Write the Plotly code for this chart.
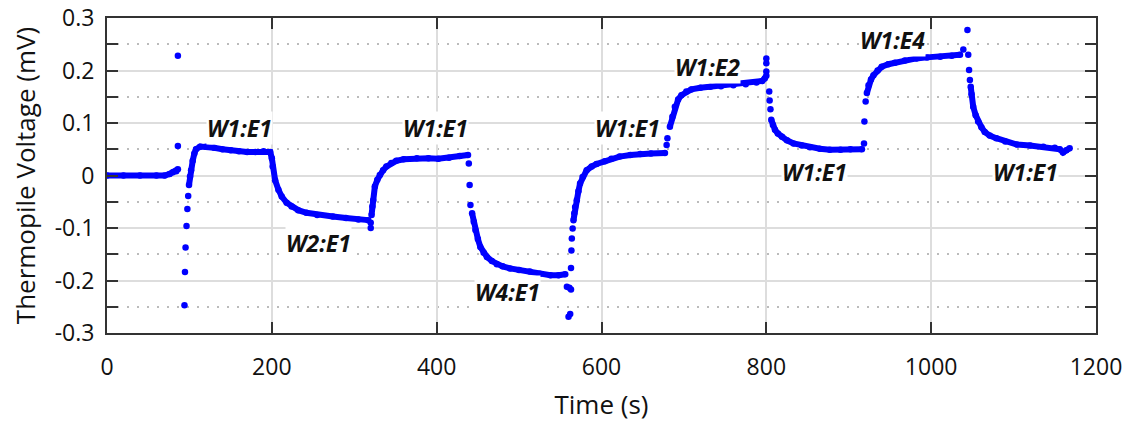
import plotly.graph_objects as go

# Continuous sweeps (None separates the segments)
curve_t = [0, 20, 40, 60, 70, 76, 80, 84, 86, None,
           99.5, 100.7, 102, 104, 106, 108, 113, 120, 130, 140, 150, 160, 170, 180, 190, 198, 200, 201,
           204, 208, 212, 218, 224, 232, 242, 255, 274, 290, 305, 317, None,
           321, 322, 323, 325, 328, 331, 335, 339, 345, 351, 360, 376, 390, 402, 415, 428, 438, None,
           443, 445, 447, 450, 453, 457, 461, 467, 473, 480, 489, 500, 513, 525, 538, 548, 556, None,
           566, 567, 568, 570, 572, 574, 577, 582, 588, 594, 604, 612, 622, 635, 647, 660, 677, None,
           683, 686, 689, 693, 697, 703, 709, 720, 732, 745, 760, 775, 788, 795, 798, 800, None,
           806, 808, 810.5, 814, 819, 825, 833, 843, 853, 865, 877, 890, 902, 916, None,
           922, 924, 927, 930, 935, 940, 948, 956, 968, 982, 995, 1011, 1025, 1035, None,
           1048, 1049, 1051, 1054, 1057, 1061, 1065, 1071, 1079, 1090, 1104, 1120, 1136, 1150, 1156, 1160, 1164, 1168]
curve_v = [0.0, 0.0, 0.0, 0.0, 0.0, 0.003, 0.006, 0.008, 0.012, None,
           -0.018, -0.002, 0.010, 0.028, 0.042, 0.050, 0.055, 0.055, 0.053, 0.050, 0.048, 0.046, 0.045, 0.045, 0.046, 0.045, 0.033, 0.017,
           -0.009, -0.027, -0.040, -0.052, -0.059, -0.066, -0.071, -0.075, -0.078, -0.081, -0.084, -0.085, None,
           -0.075, -0.059, -0.047, -0.021, -0.008, 0.001, 0.010, 0.017, 0.024, 0.028, 0.031, 0.033, 0.033, 0.032, 0.034, 0.037, 0.039, None,
           -0.072, -0.088, -0.104, -0.121, -0.136, -0.147, -0.155, -0.163, -0.169, -0.173, -0.177, -0.180, -0.183, -0.187, -0.190, -0.190, -0.188, None,
           -0.085, -0.072, -0.060, -0.047, -0.030, -0.015, -0.003, 0.010, 0.017, 0.022, 0.027, 0.032, 0.036, 0.039, 0.041, 0.042, 0.043, None,
           0.093, 0.112, 0.131, 0.145, 0.153, 0.160, 0.164, 0.167, 0.169, 0.170, 0.172, 0.174, 0.177, 0.180, 0.185, 0.190, None,
           0.106, 0.096, 0.087, 0.080, 0.074, 0.067, 0.061, 0.057, 0.054, 0.051, 0.049, 0.049, 0.050, 0.050, None,
           0.157, 0.172, 0.183, 0.191, 0.200, 0.207, 0.212, 0.215, 0.219, 0.223, 0.225, 0.226, 0.228, 0.230, None,
           0.169, 0.155, 0.131, 0.115, 0.103, 0.092, 0.083, 0.076, 0.071, 0.065, 0.059, 0.057, 0.055, 0.053, 0.050, 0.044, 0.048, 0.052]

# Isolated transient samples at the switching moments
jump_t = [86, 86, 94, 94.6, 95.3, 96.5, 97.5, 98.5,
          320, 320,
          439, 440, 441,
          558, 561, 563, 560, 562, 563, 563.5, 564, 565,
          679, 680,
          800, 800, 800, 803.5, 804, 805,
          918.5, 919, 920.5,
          1039, 1044, 1045, 1046, 1047]
jump_v = [0.228, 0.056, -0.247, -0.184, -0.137, -0.096, -0.064, -0.039,
          -0.100, -0.090,
          0.023, -0.018, -0.056,
          -0.212, -0.214, -0.217, -0.269, -0.264, -0.176, -0.143, -0.120, -0.101,
          0.058, 0.071,
          0.223, 0.214, 0.198, 0.160, 0.143, 0.126,
          0.061, 0.103, 0.141,
          0.240, 0.277, 0.230, 0.201, 0.182]

# Labels
ann_text = ["W1:E1", "W2:E1", "W1:E1", "W4:E1", "W1:E1", "W1:E2", "W1:E1", "W1:E4", "W1:E1"]
ann_t = [161, 257, 398, 486, 631, 729, 859, 953, 1114]
ann_v = [0.090, -0.129, 0.090, -0.222, 0.090, 0.207, 0.007, 0.258, 0.007]

x_ticks = [0, 200, 400, 600, 800, 1000, 1200]
y_ticks = [-0.3, -0.2, -0.1, 0, 0.1, 0.2, 0.3]
y_tick_labels = ["-0.3", "-0.2", "-0.1", "0", "0.1", "0.2", "0.3"]

BLUE = "#0000ff"
FONT = "Open Sans"

fig = go.Figure()
fig.add_trace(go.Scatter(x=curve_t, y=curve_v, mode="lines+markers",
                         line=dict(color=BLUE, width=6),
                         marker=dict(color=BLUE, size=6.5),
                         connectgaps=False, showlegend=False, hoverinfo="x+y"))
fig.add_trace(go.Scatter(x=jump_t, y=jump_v, mode="markers",
                         marker=dict(color=BLUE, size=6.5),
                         showlegend=False, hoverinfo="x+y"))

for txt, t, v in zip(ann_text, ann_t, ann_v):
    fig.add_annotation(x=t, y=v, text="<b><i>" + txt + "</i></b>", showarrow=False,
                       font=dict(family=FONT, size=23, color="#111111"),
                       bgcolor="white", borderpad=0)

axis_common = dict(showline=True, linecolor="#333333", linewidth=2, mirror="ticks",
                   ticks="inside", ticklen=11, tickwidth=2, tickcolor="#333333",
                   gridcolor="#dddddd", gridwidth=2, zeroline=False, automargin=False,
                   tickfont=dict(family=FONT, size=23, color="#111111"))

fig.update_xaxes(range=[0, 1200], tickvals=x_ticks, showgrid=True,
                 title=dict(text="Time (s)", font=dict(family=FONT, size=26, color="#111111"), standoff=18),
                 ticklabelstandoff=12, **axis_common)
fig.update_yaxes(range=[-0.3, 0.3], tickvals=y_ticks, ticktext=y_tick_labels, showgrid=True,
                 minor=dict(dtick=0.05, tick0=0, ticks="inside", ticklen=11, tickwidth=2, tickcolor="#333333",
                            showgrid=True, gridcolor="#bbbbbb", gridwidth=1.5, griddash="2px,8px"),
                 title=dict(text="Thermopile Voltage (mV)", font=dict(family=FONT, size=26, color="#111111"), standoff=12),
                 ticklabelstandoff=6, **axis_common)

fig.update_layout(width=1127, height=422, margin=dict(l=107, r=31, t=18, b=89),
                  plot_bgcolor="white", paper_bgcolor="white")

fig.write_html("out.html")
